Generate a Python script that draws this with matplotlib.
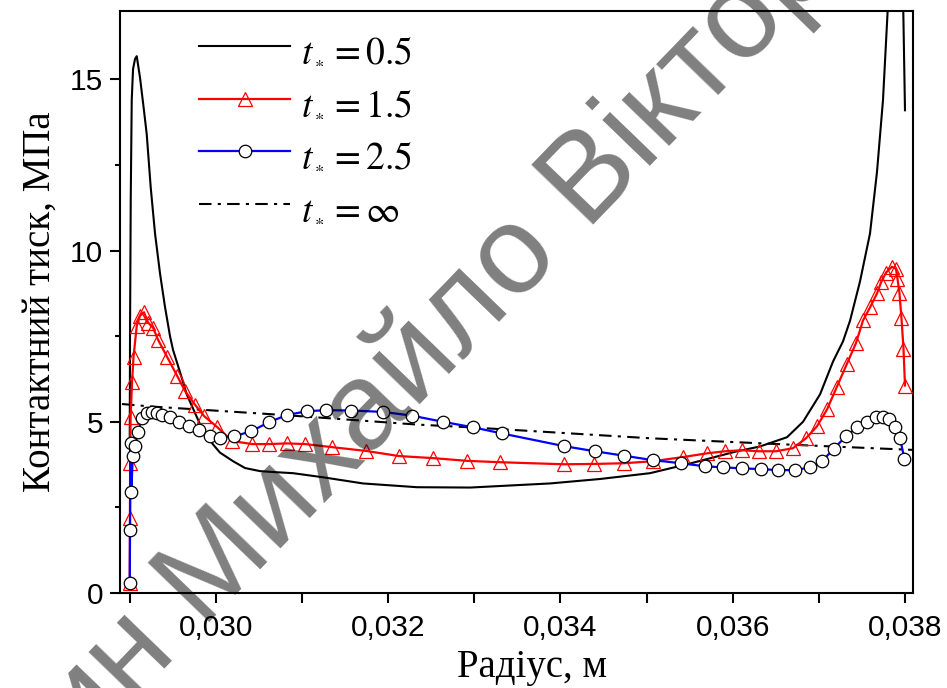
import matplotlib
matplotlib.use("Agg")
import matplotlib.pyplot as plt
from matplotlib.ticker import MultipleLocator, FuncFormatter

plt.rcParams['mathtext.fontset'] = 'stix'

# radius, m / contact pressure, MPa
r_05 = [0.029000, 0.0290035, 0.0290116, 0.0290232, 0.0290383, 0.0290615, 0.0290813,
        0.0291196, 0.0291660, 0.0291973, 0.0292438, 0.0292937, 0.0293517, 0.0294098,
        0.0294678, 0.0295027, 0.0295839, 0.0296617, 0.0298161, 0.0299670, 0.0300483,
        0.0301992, 0.0303385, 0.0305126, 0.0306867, 0.0308957, 0.0312439, 0.0317083,
        0.0323351, 0.0329504, 0.0338791, 0.0344595, 0.0350399, 0.0354694, 0.0360499,
        0.0363169, 0.0366303, 0.0368160, 0.0370134, 0.0371643, 0.0372804, 0.0373616,
        0.0374777, 0.0375938, 0.0376750, 0.0377447, 0.0378027, 0.0378608, 0.0379188,
        0.0379536, 0.0379803, 0.0380000]
p_05 = [4.5, 7.6, 11.5, 14.4, 15.3, 15.6, 15.68,
        15.05, 14.08, 13.4, 11.84, 10.5, 9.33, 8.35,
        7.5, 7.1, 6.45, 5.8, 4.93, 4.34, 4.1,
        3.85, 3.65, 3.56, 3.53, 3.5, 3.38, 3.2,
        3.09, 3.08, 3.2, 3.33, 3.5, 3.76, 4.14,
        4.28, 4.55, 5.0, 5.8, 6.76, 7.35, 7.95,
        9.1, 10.5, 12.3, 14.4, 17.2, 20.0, 21.0,
        19.5, 17.0, 14.1]

r_15 = [0.029000, 0.0290023, 0.0290046, 0.0290104, 0.0290267, 0.0290441, 0.0290813,
        0.0291196, 0.0291660, 0.0292124, 0.0292705, 0.0293285, 0.0294330, 0.0295491,
        0.0296419, 0.0297580, 0.0298625, 0.0300134, 0.0301876, 0.0304197, 0.0306171,
        0.0308260, 0.0310350, 0.0313484, 0.0317431, 0.0321262, 0.0325209, 0.0329155,
        0.0332986, 0.0340416, 0.0343898, 0.0347381, 0.0350747, 0.0354230, 0.0357016,
        0.0359105, 0.0361079, 0.0363052, 0.0365026, 0.0366999, 0.0368508, 0.0369785,
        0.0370946, 0.0372107, 0.0373268, 0.0374312, 0.0375125, 0.0375938, 0.0376750,
        0.0377215, 0.0377795, 0.0378492, 0.0378956, 0.0379130, 0.0379362, 0.0379594,
        0.0379826, 0.0380000]
p_15 = [0.3, 2.2, 3.8, 5.15, 6.15, 6.9, 7.8,
        8.1, 8.2, 7.9, 7.75, 7.4, 6.9, 6.35,
        5.9, 5.5, 5.17, 4.85, 4.44, 4.35, 4.35,
        4.37, 4.35, 4.26, 4.15, 4.0, 3.94, 3.86,
        3.82, 3.76, 3.77, 3.79, 3.85, 3.97, 4.08,
        4.14, 4.17, 4.14, 4.14, 4.23, 4.52, 4.87,
        5.36, 6.03, 6.7, 7.3, 7.96, 8.34, 8.75,
        9.07, 9.36, 9.53, 9.47, 9.18, 8.75, 8.02,
        7.14, 6.06]

r_25 = [0.029000, 0.0290035, 0.0290093, 0.0290186, 0.0290348, 0.0290592, 0.0290964,
        0.0291393, 0.0291973, 0.0292554, 0.0293134, 0.0293715, 0.0294678, 0.0295723,
        0.0296884, 0.0298045, 0.0299322, 0.0300483, 0.0302108, 0.0304081, 0.0306171,
        0.0308260, 0.0310582, 0.0312788, 0.0315690, 0.0319405, 0.0322771, 0.0326370,
        0.0329852, 0.0333219, 0.0340416, 0.0344015, 0.0347381, 0.0350747, 0.0353998,
        0.0356784, 0.0358873, 0.0361079, 0.0363285, 0.0365258, 0.0367231, 0.0368973,
        0.0370366, 0.0371759, 0.0373152, 0.0374429, 0.0375589, 0.0376634, 0.0377447,
        0.0378144, 0.0378840, 0.0379420, 0.0379942]
p_25 = [0.3, 1.85, 4.37, 2.95, 4.0, 4.3, 4.7,
        5.1, 5.25, 5.28, 5.25, 5.2, 5.14, 5.0,
        4.87, 4.75, 4.6, 4.54, 4.58, 4.72, 4.99,
        5.2, 5.31, 5.34, 5.33, 5.29, 5.18, 5.0,
        4.84, 4.66, 4.29, 4.14, 4.01, 3.88, 3.79,
        3.70, 3.67, 3.64, 3.62, 3.59, 3.59, 3.67,
        3.85, 4.22, 4.58, 4.84, 5.0, 5.13, 5.15,
        5.07, 4.85, 4.53, 3.9]

r_inf = [0.02891, 0.0292357, 0.0307797, 0.0323351, 0.0329504, 0.0350399,
         0.0364329, 0.0372455, 0.0380929]
p_inf = [5.52, 5.45, 5.2, 4.92, 4.84, 4.52, 4.36, 4.27, 4.18]

labels = [r'$t_{_*} = 0.5$', r'$t_{_*} = 1.5$', r'$t_{_*} = 2.5$', r'$t_{_*} = \infty$']
x_label = 'Радіус, м'
y_label = 'Контактний тиск, МПа'
watermark = 'ин Михайло Віктор'

W, H = 947, 688
fig = plt.figure(figsize=(W / 100, H / 100), dpi=100)
ax = fig.add_axes([120 / W, 1 - 593 / H, 793 / W, 582 / H])

ax.plot(r_05, p_05, color='black', lw=1.5, label=labels[0], zorder=3)
ax.plot(r_15, p_15, color='red', lw=1.6, marker='^', ms=9.5, mfc='none',
        mec='red', mew=0.9, label=labels[1], zorder=4)
ax.plot(r_25, p_25, color='blue', lw=1.6, marker='o', ms=9, mfc='white',
        mec='black', mew=0.9, label=labels[2], zorder=5)
ax.plot(r_inf, p_inf, color='black', lw=1.5, ls=(0, (6, 3, 1.5, 3)),
        label=labels[3], zorder=2)

ax.set_xlim(0.028887, 0.038093)
ax.set_ylim(0, 17)

ax.xaxis.set_major_locator(MultipleLocator(0.002))
ax.xaxis.set_minor_locator(MultipleLocator(0.001))
ax.xaxis.set_major_formatter(FuncFormatter(lambda v, _: f"{v:.3f}".replace('.', ',')))
ax.yaxis.set_major_locator(MultipleLocator(5))
ax.yaxis.set_minor_locator(MultipleLocator(2.5))

for s in ax.spines.values():
    s.set_linewidth(1.5)

ax.tick_params(axis='both', which='both', direction='out', top=False, right=False,
               width=1.5, labelfontfamily='Liberation Sans')
ax.tick_params(axis='both', which='major', length=7, labelsize=21.5)
ax.tick_params(axis='x', which='major', pad=8)
ax.tick_params(axis='y', which='major', pad=5)
ax.tick_params(axis='x', which='minor', length=7)
ax.tick_params(axis='y', which='minor', length=3.5)

ax.set_xlabel(x_label, family='Liberation Serif', fontsize=28)
ax.xaxis.set_label_coords((532 - 120) / 793, -0.097)
ax.set_ylabel(y_label, family='Liberation Serif', fontsize=28, labelpad=8)

ax.legend(loc='upper left', bbox_to_anchor=(0.10, 0.965), frameon=False,
          fontsize=27, handlelength=2.43, handletextpad=0.29, labelspacing=0.44,
          borderaxespad=0, borderpad=0)

fig.text(82 / W, 1 - 754 / H, watermark, rotation=46, rotation_mode='anchor',
         ha='left', va='baseline', fontsize=90, family='Liberation Sans',
         color='black', alpha=0.5, zorder=10)

fig.savefig('out.png', dpi=100)
